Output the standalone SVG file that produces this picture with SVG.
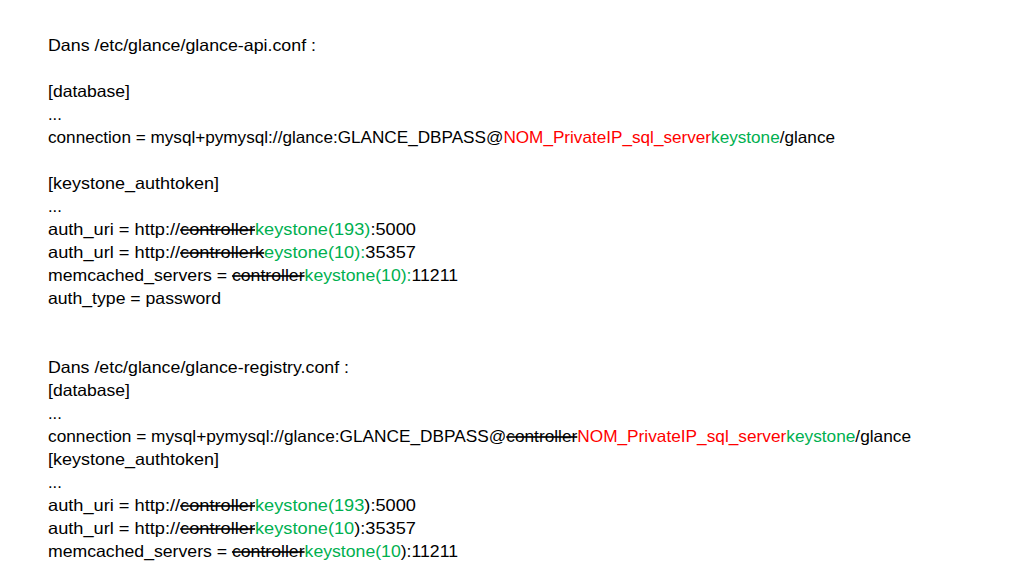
<svg xmlns="http://www.w3.org/2000/svg" width="1024" height="576" viewBox="0 0 1024 576">
<style>
text{font-family:"Liberation Sans",Arial,sans-serif;font-size:16.5px;fill:#000}
.g{fill:#00B050}.r{fill:#FF0000}.s{text-decoration:line-through}
</style>
<rect width="1024" height="576" fill="#fff"/>
<g id="text">
<text x="48" y="51" textLength="268" lengthAdjust="spacingAndGlyphs">Dans /etc/glance/glance-api.conf :</text>
<text x="48" y="97" textLength="82" lengthAdjust="spacingAndGlyphs">[database]</text>
<text x="48" y="120">...</text>
<text x="48" y="143" textLength="787" lengthAdjust="spacingAndGlyphs">connection = mysql+pymysql://glance:GLANCE_DBPASS@<tspan class="r">NOM_PrivateIP_sql_server</tspan><tspan class="g">keystone</tspan>/glance</text>
<text x="48" y="189" textLength="171" lengthAdjust="spacingAndGlyphs">[keystone_authtoken]</text>
<text x="48" y="212">...</text>
<text x="48" y="235" textLength="368" lengthAdjust="spacingAndGlyphs">auth_uri = http://<tspan class="s">controller</tspan><tspan class="g">keystone(193)</tspan>:5000</text>
<text x="48" y="258" textLength="368" lengthAdjust="spacingAndGlyphs">auth_url = http://<tspan class="s">controllerk</tspan><tspan class="g">eystone(10):</tspan>35357</text>
<text x="48" y="281" textLength="410" lengthAdjust="spacingAndGlyphs">memcached_servers = <tspan class="s">controller</tspan><tspan class="g">keystone(10):</tspan>11211</text>
<text x="48" y="304" textLength="173" lengthAdjust="spacingAndGlyphs">auth_type = password</text>
<text x="48" y="373" textLength="301" lengthAdjust="spacingAndGlyphs">Dans /etc/glance/glance-registry.conf :</text>
<text x="48" y="396" textLength="82" lengthAdjust="spacingAndGlyphs">[database]</text>
<text x="48" y="419">...</text>
<text x="48" y="442" textLength="863" lengthAdjust="spacingAndGlyphs">connection = mysql+pymysql://glance:GLANCE_DBPASS@<tspan class="s">controller</tspan><tspan class="r">NOM_PrivateIP_sql_server</tspan><tspan class="g">keystone</tspan>/glance</text>
<text x="48" y="465" textLength="171" lengthAdjust="spacingAndGlyphs">[keystone_authtoken]</text>
<text x="48" y="488">...</text>
<text x="48" y="511" textLength="368" lengthAdjust="spacingAndGlyphs">auth_uri = http://<tspan class="s">controller</tspan><tspan class="g">keystone(193</tspan>):5000</text>
<text x="48" y="534" textLength="368" lengthAdjust="spacingAndGlyphs">auth_url = http://<tspan class="s">controller</tspan><tspan class="g">keystone(10</tspan>):35357</text>
<text x="48" y="557" textLength="410" lengthAdjust="spacingAndGlyphs">memcached_servers = <tspan class="s">controller</tspan><tspan class="g">keystone(10</tspan>):11211</text>
</g>
</svg>
